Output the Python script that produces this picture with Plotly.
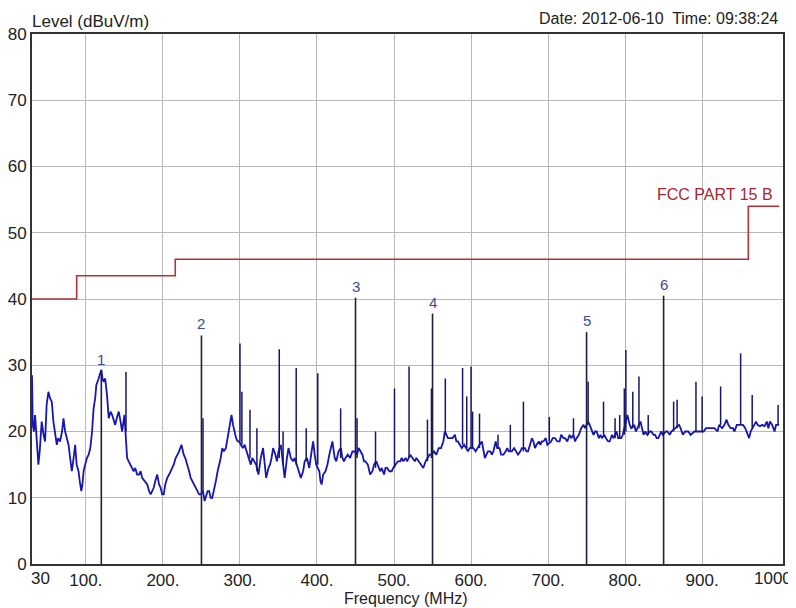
import plotly.graph_objects as go

freq_mhz = [
    30, 31, 32.5, 34, 36, 38.3, 40, 42.6, 45, 47, 49, 51.3, 53.5, 55.7, 57.8, 60, 62.2, 64, 66.5, 69,
    70.9, 73, 75, 77.4, 79.5, 81.7, 84, 86, 88, 90.4, 92, 94, 95.5, 97, 99, 101.3, 103.5, 105.7, 108, 110,
    112, 113.5, 116.5, 118, 120, 121.5, 123, 125, 127.4, 129.6, 132, 134, 136, 138, 140, 142.6, 145, 147, 150, 151,
    153.5, 155.5, 157.8, 160, 162, 164, 166.5, 169, 171, 173, 176, 179.6, 182, 184, 186, 188, 190, 192.6, 195, 197,
    199, 201, 203, 205.6, 208, 212, 214, 216.5, 219, 221, 224, 226, 227, 229, 231.7, 234, 236, 238, 240, 242,
    244.8, 247, 249, 252, 254, 255.6, 258, 260, 262, 264, 266, 268.7, 271, 273, 275, 277, 279, 281.7, 284, 286,
    289, 291, 292.6, 295, 297, 299, 301, 304, 306, 309, 311, 314, 316, 318, 321, 324, 327, 330, 332, 334,
    337, 339, 341, 343, 346, 348, 350, 353, 356, 358, 361, 363, 366, 369, 371, 374, 377, 379, 382, 384,
    387, 390, 393, 395, 397, 399, 403, 404.5, 406, 408, 411, 413.6, 416, 418, 420, 423, 425, 428, 431, 433,
    435, 437, 440, 443, 446, 448, 452, 454, 456, 459, 461, 463, 466, 469, 472, 474, 477, 480, 482, 484,
    487, 489, 491, 494, 497, 499, 502, 505, 508, 510, 512, 515, 517, 521, 524, 527, 529, 532, 535.7, 538,
    541, 544, 546, 549, 552, 555, 558, 561, 564, 566, 568, 570, 573, 576, 579, 581, 583, 586, 588, 591,
    593, 596, 598, 601, 603, 606, 608, 611, 614, 616, 618, 620, 622, 625, 627, 629, 632, 634, 637, 639,
    642, 645, 647, 649, 653, 656, 658, 661, 664, 666, 670, 672, 674, 677, 679, 681, 683, 685, 688, 690,
    692, 694, 697, 699, 704, 706, 709, 712, 715, 717, 720, 722, 725, 728, 730, 733, 735, 737, 740, 743,
    746, 748, 752, 754, 757, 759, 761, 763, 766, 768, 770, 773, 775, 778, 780, 783, 785, 789, 791, 795,
    797, 803, 806, 808, 812, 814, 816, 820, 822, 824, 826, 829, 832, 834, 837, 839, 841, 843, 845, 847,
    849, 853, 855, 858, 860, 865, 870, 872, 875, 878, 880, 882, 885, 888, 890, 894, 897, 902, 905, 908,
    910, 913, 916, 920, 922, 926, 929, 931.6, 934, 937, 940, 942, 945, 947, 953, 956, 958, 961, 963, 967,
    970, 972, 975, 978, 981, 984, 986, 988, 991, 994, 996, 1000,
]
level_dbuv = [
    28.5, 21, 20, 22.5, 19, 15, 17, 21.5, 19.5, 18.5, 24, 26, 25, 24.5, 21.5, 20, 18, 19, 18.5, 20,
    22, 20, 19, 18, 16, 14, 16, 18, 15, 14, 12.5, 11, 12, 14, 15, 16, 16.5, 17.5, 20, 23.5,
    25, 27, 28, 28.5, 29.3, 28, 27.5, 28, 25.5, 22, 23, 22.5, 21.5, 21, 22, 23, 21.5, 20, 22.5, 20,
    16, 15.5, 15, 14.5, 14, 14.5, 13.5, 13.5, 14, 13, 12.5, 12, 11, 10.5, 11, 11.5, 12.5, 13.5, 12, 11.5,
    10.5, 10.5, 12, 13, 13.5, 14.5, 15, 16, 16.5, 17, 18, 17, 16.5, 16, 15, 14, 13, 12.5, 12, 11.5,
    11, 10.5, 10.5, 11, 9.5, 10, 11, 11, 10, 10, 11, 12.5, 14, 15, 16, 17.5, 17, 17.5, 19, 20,
    22.5, 21, 20, 19, 18.5, 18.5, 18, 17.5, 18, 17, 16, 15, 16, 15.5, 15, 13.5, 16, 17.5, 15, 13,
    14.5, 15, 16, 17.5, 16.5, 15.5, 17, 18, 15, 13, 16, 17.5, 16, 15.5, 16, 15, 14, 13, 14, 15.5,
    16, 14.5, 17, 18.5, 16.5, 15, 14, 12.5, 12, 13.5, 14, 15, 16.5, 17.5, 18.5, 16, 15.5, 17, 17.5, 16,
    15.5, 16, 16.5, 16, 17, 17, 16.5, 17.5, 17, 16.5, 15.5, 15.5, 15, 13.5, 14, 15, 15.5, 14.5, 14, 14.5,
    13.5, 14.5, 14.5, 14, 14, 14.5, 15, 15.5, 15.5, 16, 15.5, 16, 15.5, 16.5, 16, 15.5, 16, 15.5, 15, 14.5,
    15.5, 16, 16.5, 16.5, 17, 16.5, 17.5, 17.5, 18.5, 20, 19.5, 19, 19, 19, 19.5, 18.5, 18.5, 18, 17.5, 18,
    17.5, 17, 17.5, 17.5, 17.5, 17, 17.5, 18, 18.5, 17, 16, 16.5, 17, 17, 16.5, 17, 18.5, 17.5, 17.5, 16.5,
    16.5, 17, 17.5, 17, 17, 17.5, 17, 16.5, 17, 17.5, 17.5, 17, 17, 18, 19, 18.5, 17.5, 18, 18.5, 18,
    18.5, 18.5, 19, 18, 18.5, 19, 19, 18.5, 18.5, 19.5, 19, 19, 18.5, 19.5, 19, 19.5, 18.5, 19, 19.5, 20.5,
    21, 20.5, 21.5, 21, 20, 19.5, 20, 20, 19, 19.5, 19, 19.5, 19, 18.5, 18.5, 19.5, 19, 20, 19, 19,
    19.5, 22.5, 21, 20.5, 21, 20, 20.5, 21.5, 20.5, 19.5, 20, 19.5, 20, 20, 19.5, 19.5, 19, 19, 19.5, 20,
    19.5, 20, 20, 19.5, 20, 20.5, 21, 20.5, 19.5, 20, 20, 20, 19.5, 19.8, 20, 20, 20, 20, 20.5, 20.5,
    20.5, 20.5, 20.5, 20, 21, 20.5, 21, 21.8, 21, 20.5, 20.5, 20, 21, 21, 21, 20.5, 20, 19, 20, 21,
    21.5, 21, 20.8, 21, 20.8, 21.5, 20.5, 21.5, 21, 20, 21, 21,
]

# narrow emissions riding on the trace
spike_mhz = [152, 252, 300, 302.5, 313, 322, 351, 356, 373, 386, 401, 430.7, 452, 476, 500.6,
             519.5, 543.4, 548.6, 566.6, 589, 594.4, 600, 602, 611, 635, 651, 668, 701.6, 733,
             752, 772, 787, 793, 799, 801, 810, 818, 830, 863, 867.5, 892, 900, 924, 950, 965, 998.6]
spike_foot = [20, 11, 18.5, 18, 16, 14, 16, 15, 15, 15.5, 15, 16, 16, 14.5, 14.5,
              16, 15.5, 16, 19.5, 18, 17.5, 17.5, 17.5, 17.5, 17.5, 17, 17, 18.5, 19.5,
              21, 19.5, 19, 19, 19.5, 20, 20.5, 20.5, 19.5, 20, 20.5, 20, 20, 21, 21, 20.5, 21]
spike_peak = [29, 22, 33.3, 26, 23.3, 20.5, 32.4, 20, 29.6, 20.5, 28.8, 23.5, 22, 20, 26.5,
              29.8, 21.8, 26.5, 28, 29.6, 25.3, 29.8, 23, 22.7, 19.5, 21, 24.5, 22.2, 22,
              27.5, 24.5, 22, 22.5, 26.5, 32.3, 26, 28.3, 22.5, 24.5, 24.8, 27.5, 25.3, 26.8, 31.8, 25.5, 24]

# marked peaks
marker_mhz = [120, 250, 450, 550, 750, 850]
marker_level = [29.2, 34.5, 40.2, 37.8, 35, 40.5]
marker_labels = ["1", "2", "3", "4", "5", "6"]

# FCC Part 15 B limit
limit_mhz = [30, 88, 216, 960, 1000]
limit_db = [40, 43.5, 46, 54, 54]

x_ticks = [100, 200, 300, 400, 500, 600, 700, 800, 900]
x_ticktext = ["100.", "200.", "300.", "400.", "500.", "600.", "700.", "800.", "900."]

FONT = "Liberation Sans, Arial, sans-serif"
INK = "#222"

fig = go.Figure()

fig.add_trace(go.Scatter(
    x=limit_mhz, y=limit_db, mode="lines", line=dict(color="#b03236", width=1.6, shape="hv"),
    hoverinfo="skip", showlegend=False,
))

sx, sy = [], []
for f, lo, hi in zip(spike_mhz, spike_foot, spike_peak):
    sx += [f, f, None]
    sy += [lo, hi, None]

fig.add_trace(go.Scatter(
    x=freq_mhz, y=level_dbuv, mode="lines", line=dict(color="#1616b4", width=1.8),
    showlegend=False,
))
fig.add_trace(go.Scatter(
    x=sx, y=sy, mode="lines", line=dict(color="#16166e", width=1.5),
    hoverinfo="skip", showlegend=False,
))

mx, my = [], []
for f, lv in zip(marker_mhz, marker_level):
    mx += [f, f, None]
    my += [0, lv, None]
fig.add_trace(go.Scatter(
    x=mx, y=my, mode="lines", line=dict(color="#1e1e40", width=1.6),
    hoverinfo="skip", showlegend=False,
))

for f, lv, lab in zip(marker_mhz, marker_level, marker_labels):
    fig.add_annotation(x=f, y=lv, text=lab, showarrow=False, yanchor="bottom", yshift=1,
                       font=dict(family=FONT, size=15, color="#3c4a98"))

fig.add_annotation(x=994, y=55.7, text="FCC PART 15 B", showarrow=False, xanchor="right",
                   font=dict(family=FONT, size=16, color="#a8262e"))

fig.add_annotation(xref="paper", yref="paper", x=0, y=1, xshift=-2, yshift=1, text="Level (dBuV/m)",
                   showarrow=False, xanchor="left", yanchor="bottom",
                   font=dict(family=FONT, size=17, color=INK))
fig.add_annotation(xref="paper", yref="paper", x=1, y=1, xshift=-3, yshift=5,
                   text="Date: 2012-06-10  Time: 09:38:24", showarrow=False,
                   xanchor="right", yanchor="bottom", font=dict(family=FONT, size=16, color=INK))
fig.add_annotation(x=30, y=0, yref="paper", text="30", showarrow=False, xanchor="left",
                   yanchor="top", yshift=-3, xshift=-3, font=dict(family=FONT, size=17, color=INK))
fig.add_annotation(x=1000, y=0, yref="paper", text="1000", showarrow=False, xanchor="center",
                   yanchor="top", yshift=-3, xshift=-6, font=dict(family=FONT, size=17, color=INK))
fig.add_annotation(xref="paper", yref="paper", x=0.5, y=0, text="Frequency (MHz)", showarrow=False,
                   xanchor="center", yanchor="middle", yshift=-34, xshift=-2,
                   font=dict(family=FONT, size=16, color=INK))

# page body adds an 8px offset, so the figure is 8px smaller than the window
fig.update_layout(
    width=788, height=600,
    margin=dict(l=24, r=13, t=26, b=44),
    paper_bgcolor="white", plot_bgcolor="white",
    font=dict(family=FONT, size=17, color=INK),
    xaxis=dict(
        range=[30, 1005], tickvals=x_ticks, ticktext=x_ticktext, automargin=False,
        showgrid=True, gridcolor="#b8b8b8", gridwidth=1, zeroline=False,
        showline=True, linecolor="#333", linewidth=2, mirror=True,
        ticks="", tickfont=dict(size=17),
    ),
    yaxis=dict(
        range=[0, 80], dtick=10, showgrid=True, gridcolor="#b8b8b8", gridwidth=1, automargin=False,
        zeroline=False, showline=True, linecolor="#333", linewidth=2, mirror=True,
        ticks="", tickfont=dict(size=17), ticklabelstandoff=0,
    ),
)

fig.write_html("out.html")
